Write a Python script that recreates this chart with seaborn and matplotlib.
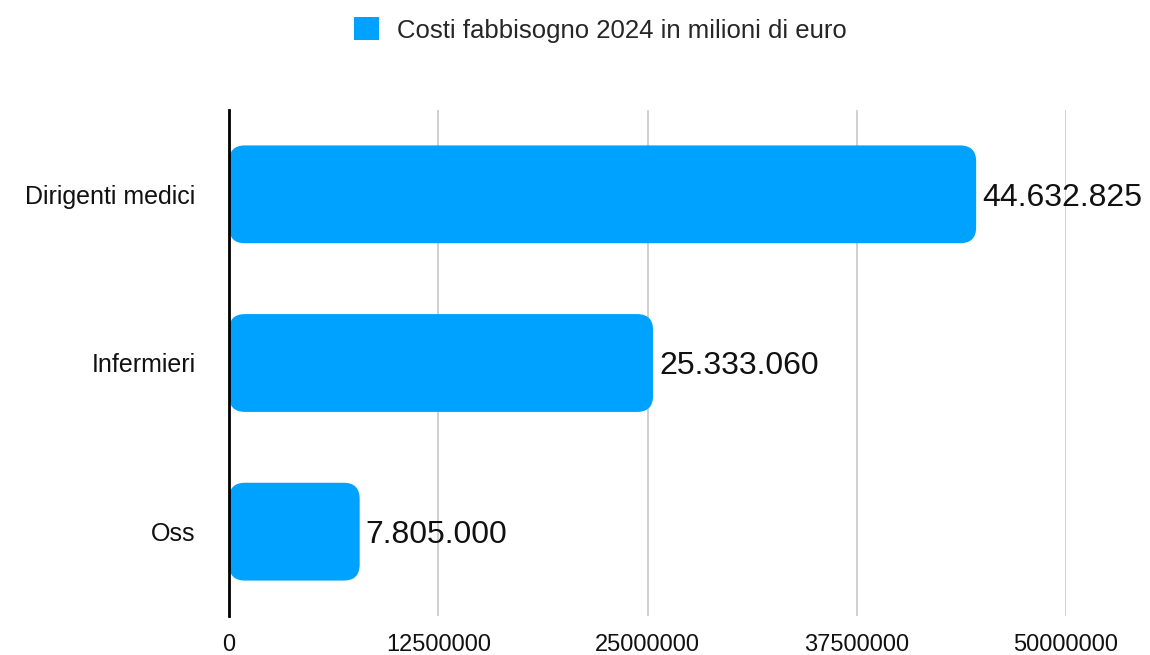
import matplotlib
matplotlib.use("Agg")
import matplotlib.pyplot as plt
from matplotlib.patches import FancyBboxPatch, Patch
import seaborn as sns
import pandas as pd

categories = ["Dirigenti medici", "Infermieri", "Oss"]
costs = [44632825, 25333060, 7805000]
value_labels = ["44.632.825", "25.333.060", "7.805.000"]
series_name = "Costi fabbisogno 2024 in milioni di euro"
x_ticks = [0, 12500000, 25000000, 37500000, 50000000]

BAR_COLOR = "#00A2FF"

sns.set_theme(style="white")
plt.rcParams["font.family"] = ["Liberation Sans", "DejaVu Sans"]

df = pd.DataFrame({"categoria": categories, "costo": costs})

fig = plt.figure(figsize=(11.5, 6.55), dpi=100)
W, H = 1150, 655
ax = fig.add_axes([229 / W, 1 - 616 / H, (1066 - 229) / W, (616 - 110) / H])

sns.barplot(data=df, y="categoria", x="costo", color=BAR_COLOR, width=0.58,
            saturation=1, ax=ax)

ax.set_xlim(0, 50000000)
ax.set_ylim(2.5, -0.5)

# swap the square bars for rounded ones
fig.canvas.draw()
bbox = ax.get_window_extent()
x_per_px = 50000000 / bbox.width
y_per_px = 3.0 / bbox.height
radius_px = 16
for bar in list(ax.patches):
    x0, y0 = bar.get_x(), bar.get_y()
    w, h = bar.get_width(), bar.get_height()
    rounded = FancyBboxPatch((x0, y0), w, h,
                             boxstyle=f"round,pad=0,rounding_size={radius_px * x_per_px}",
                             mutation_aspect=y_per_px / x_per_px,
                             facecolor=BAR_COLOR, edgecolor="none", zorder=3)
    bar.remove()
    ax.add_patch(rounded)

for i, (v, lab) in enumerate(zip(costs, value_labels)):
    ax.text(v + 6 * x_per_px, i, lab, va="center_baseline", ha="left",
            fontsize=23, color="#111111")

ax.set_xticks(x_ticks)
ax.set_xticklabels([str(t) for t in x_ticks], fontsize=17, color="#111111")
ax.tick_params(axis="y", labelsize=18, labelcolor="#111111", length=0, pad=24)
ax.tick_params(axis="x", length=0, pad=13)
ax.set_xlabel("")
ax.set_ylabel("")

ax.grid(axis="x", color="#c8c8c8", linewidth=1.2, zorder=0)
ax.grid(axis="y", visible=False)
for side in ["top", "right", "bottom"]:
    ax.spines[side].set_visible(False)
ax.spines["left"].set_color("black")
ax.spines["left"].set_linewidth(2)
ax.spines["left"].set_zorder(4)

handle = Patch(facecolor=BAR_COLOR, edgecolor="none")
fig.legend([handle], [series_name], loc="center", bbox_to_anchor=(0.522, 1 - 30 / H),
           frameon=False, fontsize=18.5, handlelength=1.0, handleheight=1.0,
           handletextpad=0.7)

fig.savefig("out.png", dpi=100)
